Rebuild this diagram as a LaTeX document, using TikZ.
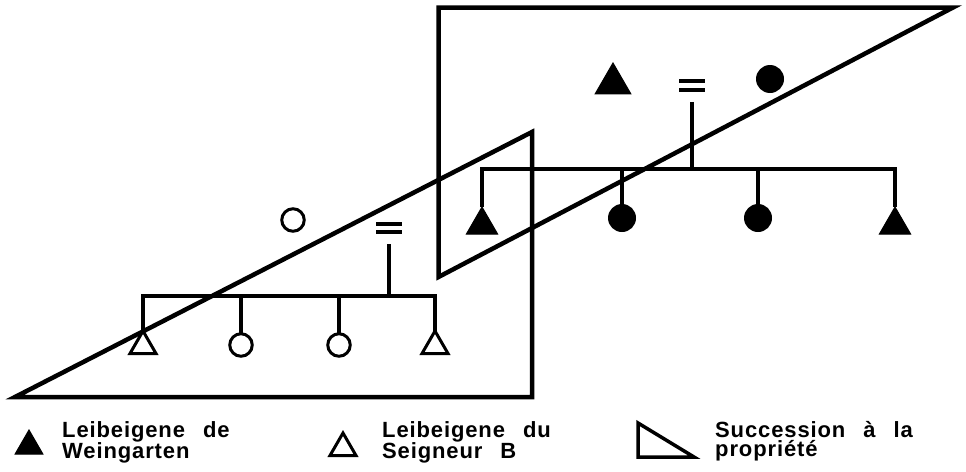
\documentclass[tikz,border=0pt]{standalone}
\usepackage{fontspec}
\setmainfont{Liberation Sans}
\newfontfamily\legfont[LetterSpace=4]{Liberation Sans}
\usetikzlibrary{shapes.geometric}
\newcommand\legsp{\hspace{18pt}}
\begin{document}
\begin{tikzpicture}[x=1pt,y=-1pt,
  big/.style={line width=4.5pt, line join=miter},
  fam/.style={line width=3.4pt, line join=miter},
  ftri/.style={regular polygon, regular polygon sides=3, fill=black, draw=black, line width=1pt, minimum size=36pt, inner sep=0pt, outer sep=0pt},
  otri/.style={regular polygon, regular polygon sides=3, draw=black, line width=3pt, minimum size=30pt, inner sep=0pt, outer sep=0pt},
  fcirc/.style={circle, fill=black, minimum size=28pt, inner sep=0pt, outer sep=0pt},
  ocirc/.style={circle, draw=black, line width=3pt, minimum size=22.5pt, inner sep=0pt, outer sep=0pt},
  eqsign/.style={rectangle, minimum width=26pt, minimum height=12.5pt, inner sep=0pt, outer sep=0pt,
    path picture={
      \fill (path picture bounding box.north west) rectangle ([yshift=-4pt]path picture bounding box.north east);
      \fill ([yshift=4pt]path picture bounding box.south west) rectangle (path picture bounding box.south east);}},
  leg/.style={font=\legfont\bfseries\fontsize{22}{19}\selectfont, align=left, inner sep=0pt, anchor=north west}
]
\fill[white] (0,0) rectangle (966,471);
\useasboundingbox (0,0) rectangle (966,471);

% succession triangles
\draw[big] (438.5,7.5) -- (953,7.5) -- (438.5,277) -- cycle;
\draw[big] (15,397) -- (532,397) -- (532,132) -- cycle;

% lower family
\node[ocirc] (lm) at (293,220) {};
\node[eqsign] (le) at (389,228) {};
\coordinate (lj) at (389,296);
\coordinate (lbl) at (143,296);
\coordinate (lbr) at (435,296);
\node[otri, anchor=corner 1] (lc1) at (143,331) {};
\node[ocirc] (lc2) at (241,345) {};
\node[ocirc] (lc3) at (339,345) {};
\node[otri, anchor=corner 1] (lc4) at (435,331) {};
\draw[fam] ([yshift=-10pt]le.south) -- (lj);
\draw[fam] (lc1.corner 1) -- (lbl) -- (lbr) -- (lc4.corner 1);
\draw[fam] (lc2.north |- lbl) -- (lc2.north);
\draw[fam] (lc3.north |- lbl) -- (lc3.north);

% upper family
\node[ftri, minimum size=41pt, anchor=corner 1] (um) at (613,63) {};
\node[eqsign] (ue) at (692,85.5) {};
\node[fcirc] (uf) at (770,79) {};
\coordinate (uj) at (692,169);
\coordinate (ubl) at (482,169);
\coordinate (ubr) at (895,169);
\node[ftri, anchor=corner 1] (uc1) at (482,207) {};
\node[fcirc] (uc2) at (622,218) {};
\node[fcirc] (uc3) at (758,218) {};
\node[ftri, anchor=corner 1] (uc4) at (895,207) {};
\draw[fam] ([yshift=-10pt]ue.south) -- (uj);
\draw[fam] (uc1.corner 1) -- (ubl) -- (ubr) -- (uc4.corner 1);
\draw[fam] (uc2.north |- ubl) -- (uc2.north);
\draw[fam] (uc3.north |- ubl) -- (uc3.north);

% legend
\node[ftri, minimum size=32pt, anchor=corner 1] (k1) at (29,430) {};
\node[leg] (t1) at (62,421) {Leibeigene\legsp de\\Weingarten};
\node[otri, anchor=corner 1] (k2) at (343,433) {};
\node[leg] (t2) at (382,421) {Leibeigene\legsp du\\Seigneur\legsp B};
\coordinate (k3a) at (638,423);
\coordinate (k3b) at (638,457);
\coordinate (k3c) at (694,457);
\draw[line width=3.5pt, line join=miter] (k3a) -- (k3c) -- (k3b) -- cycle;
\node[leg] (t3) at (715,421) {Succession\legsp à\legsp la\\propriété};
\end{tikzpicture}
\end{document}
